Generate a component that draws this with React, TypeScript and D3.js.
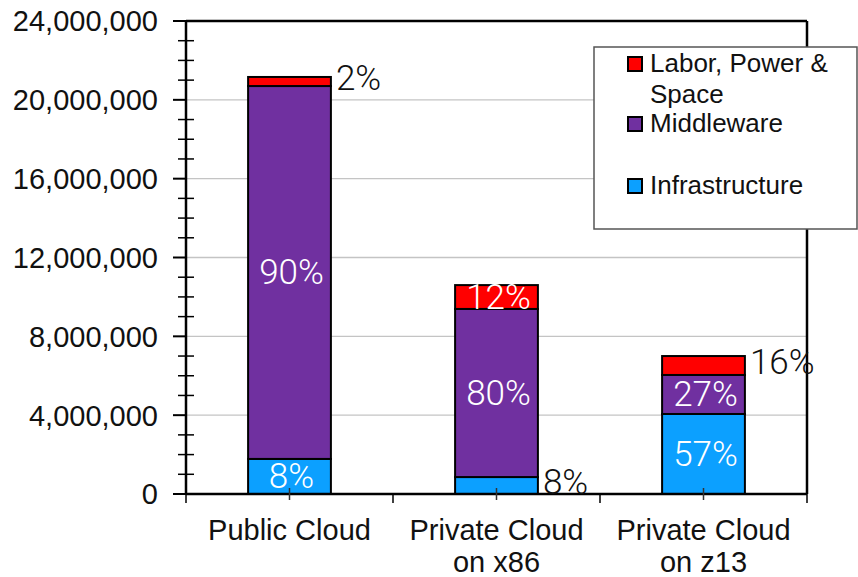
import React from 'react';
import * as d3 from 'd3';

const categories = [['Public Cloud'], ['Private Cloud', 'on x86'], ['Private Cloud', 'on z13']];
const infrastructure = [1780000, 860000, 4060000];
const middleware = [18920000, 8530000, 1980000];
const laborPowerSpace = [460000, 1210000, 960000];

const infraPct = ['8%', '8%', '57%'];
const middlewarePct = ['90%', '80%', '27%'];
const laborPct = ['2%', '12%', '16%'];
// where each percent label sits: inside the segment or just right of the bar
const infraPlace = ['in', 'out', 'in'];
const middlewarePlace = ['in', 'in', 'in'];
const laborPlace = ['out', 'in', 'out'];

const yTicks = [0, 4000000, 8000000, 12000000, 16000000, 20000000, 24000000];
const legendLabels = [['Labor, Power &', 'Space'], ['Middleware'], ['Infrastructure']];

const colors = { labor: '#ff0000', middleware: '#7030a0', infra: '#0ca0ff' };
const axisFont = '"Liberation Sans", Arial, Helvetica, sans-serif';
const pctFont = '"Helvetica Neue", Roboto, "Liberation Sans", sans-serif';

const App: React.FC = () => {
  const width = 858;
  const height = 577;
  const margin = { top: 21, right: 51, bottom: 83, left: 186 };
  const plotRight = width - margin.right;
  const plotBottom = height - margin.bottom;

  const x = d3
    .scaleBand<number>()
    .domain(categories.map((_, i) => i))
    .range([margin.left, plotRight])
    .paddingInner(0.6)
    .paddingOuter(0.3);

  const y = d3.scaleLinear().domain([0, 24000000]).range([plotBottom, margin.top]);
  const minorTicks = d3.range(0, 24000001, 1000000).filter(v => v % 4000000 !== 0);
  const fmt = d3.format(',');

  const step = x.step();
  const boundaryTicks = d3.range(0, categories.length + 1).map(i => margin.left + i * step);
  const centerTicks = categories.map((_, i) => (x(i) as number) + x.bandwidth() / 2);

  const series = [
    { key: 'infra', values: infrastructure, pct: infraPct, place: infraPlace, color: colors.infra },
    { key: 'middleware', values: middleware, pct: middlewarePct, place: middlewarePlace, color: colors.middleware },
    { key: 'labor', values: laborPowerSpace, pct: laborPct, place: laborPlace, color: colors.labor },
  ];

  // stack by hand
  const segments = series.flatMap((s, si) =>
    categories.map((_, ci) => {
      const base = series.slice(0, si).reduce((acc, p) => acc + p.values[ci], 0);
      return { ...s, ci, y0: base, y1: base + s.values[ci] };
    })
  );

  const legendItems = [
    { color: colors.labor, lines: legendLabels[0], top: 57 },
    { color: colors.middleware, lines: legendLabels[1], top: 117 },
    { color: colors.infra, lines: legendLabels[2], top: 179 },
  ];

  return (
    <svg width={width} height={height} style={{ position: 'absolute', left: 0, top: 0 }}>
      <rect width={width} height={height} fill="#fff" />

      {/* grid lines */}
      {yTicks.slice(1, -1).map(t => (
        <line key={'g' + t} x1={margin.left} x2={plotRight} y1={y(t)} y2={y(t)} stroke="#c4c4c4" strokeWidth={1.3} />
      ))}

      {/* bars */}
      {segments.map(s => (
        <rect
          key={s.key + s.ci}
          x={x(s.ci)}
          width={x.bandwidth()}
          y={y(s.y1)}
          height={y(s.y0) - y(s.y1)}
          fill={s.color}
          stroke="#000"
          strokeWidth={2}
        />
      ))}

      {/* frame */}
      <line x1={margin.left} x2={plotRight} y1={margin.top} y2={margin.top} stroke="#000" strokeWidth={2.5} />
      <line x1={plotRight} x2={plotRight} y1={margin.top} y2={plotBottom} stroke="#000" strokeWidth={2.5} />
      <line x1={margin.left} x2={plotRight} y1={plotBottom} y2={plotBottom} stroke="#000" strokeWidth={2.5} />
      <line x1={margin.left} x2={margin.left} y1={margin.top} y2={plotBottom} stroke="#000" strokeWidth={2.5} />

      {/* y ticks */}
      {yTicks.map(t => (
        <g key={'y' + t}>
          <line x1={margin.left - 13} x2={margin.left} y1={y(t)} y2={y(t)} stroke="#000" strokeWidth={2} />
          <text
            x={158}
            y={y(t)}
            dy="0.36em"
            textAnchor="end"
            fontFamily={axisFont}
            fontSize={29}
            fill="#111"
          >
            {fmt(t)}
          </text>
        </g>
      ))}
      {minorTicks.map(t => (
        <line key={'m' + t} x1={margin.left - 8} x2={margin.left + 8} y1={y(t)} y2={y(t)} stroke="#000" strokeWidth={1.5} />
      ))}

      {/* x ticks */}
      {boundaryTicks.map(t => (
        <line key={'b' + t} x1={t} x2={t} y1={plotBottom} y2={plotBottom + 9} stroke="#000" strokeWidth={1.5} />
      ))}
      {centerTicks.map(t => (
        <line key={'c' + t} x1={t} x2={t} y1={plotBottom - 6} y2={plotBottom + 6} stroke="#333" strokeWidth={1.5} />
      ))}

      {/* category labels */}
      {categories.map((lines, i) => (
        <text
          key={'cat' + i}
          x={centerTicks[i]}
          y={plotBottom + 46}
          textAnchor="middle"
          fontFamily={axisFont}
          fontSize={29}
          fill="#111"
        >
          {lines.map((l, li) => (
            <tspan key={li} x={centerTicks[i]} dy={li === 0 ? 0 : 32}>
              {l}
            </tspan>
          ))}
        </text>
      ))}

      {/* percent labels */}
      {segments.map(s => {
        const mid = (y(s.y0) + y(s.y1)) / 2;
        const inside = s.place[s.ci] === 'in';
        return (
          <text
            key={'p' + s.key + s.ci}
            x={inside ? centerTicks[s.ci] + 2 : (x(s.ci) as number) + x.bandwidth() + 5}
            y={inside ? mid + 12 : mid + 8}
            textAnchor={inside ? 'middle' : 'start'}
            fontFamily={pctFont}
            fontWeight={300}
            fontSize={35}
            fill={inside ? '#fff' : '#111'}
          >
            {s.pct[s.ci]}
          </text>
        );
      })}

      {/* legend */}
      <rect x={594} y={47} width={263} height={182} fill="#fff" stroke="#555" strokeWidth={1.5} />
      {legendItems.map(item => (
        <g key={item.lines[0]}>
          <rect x={628} y={item.top} width={14} height={14} fill={item.color} stroke="#000" strokeWidth={2} />
          <text x={650} y={item.top + 15} fontFamily={axisFont} fontSize={26} fill="#111">
            {item.lines.map((l, li) => (
              <tspan key={li} x={650} dy={li === 0 ? 0 : 31}>
                {l}
              </tspan>
            ))}
          </text>
        </g>
      ))}
    </svg>
  );
};

export default App;
